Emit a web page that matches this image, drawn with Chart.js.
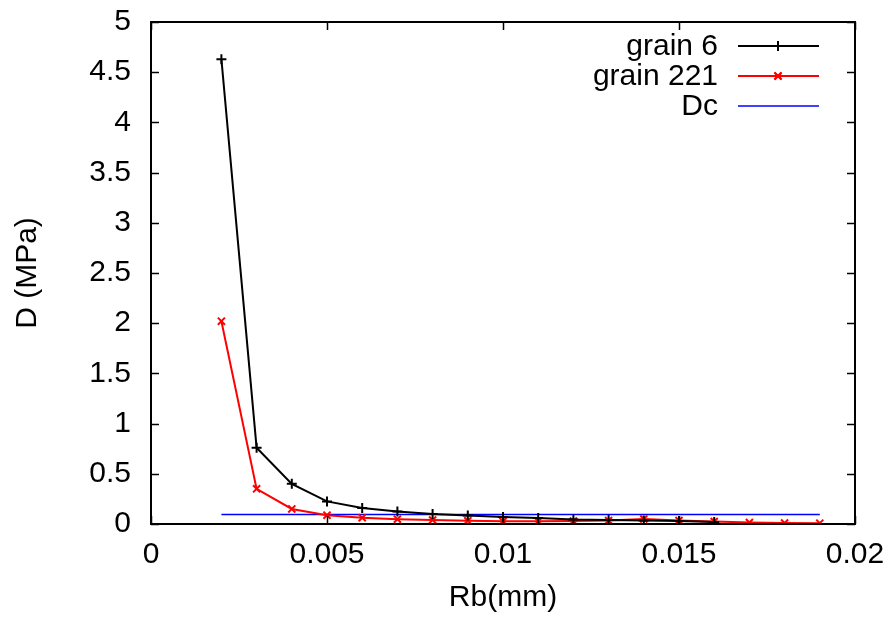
<!DOCTYPE html>
<html>
<head>
<meta charset="utf-8">
<script src="https://cdn.jsdelivr.net/npm/chart.js@4.4.1/dist/chart.umd.min.js"></script>
<style>
  html, body { margin: 0; padding: 0; background: #fff; }
  canvas { display: block; }
</style>
</head>
<body>
<canvas id="chart" width="892" height="620"></canvas>
<script>
const rb6 = [0.002, 0.003, 0.004, 0.005, 0.006, 0.007, 0.008, 0.009, 0.010, 0.011, 0.012, 0.013, 0.014, 0.015, 0.016];
const d6 = [4.63, 0.76, 0.40, 0.225, 0.16, 0.125, 0.10, 0.085, 0.07, 0.06, 0.045, 0.04, 0.035, 0.03, 0.02];

const rb221 = [0.002, 0.003, 0.004, 0.005, 0.006, 0.007, 0.008, 0.009, 0.010, 0.011, 0.012, 0.013, 0.014, 0.015, 0.016, 0.017, 0.018, 0.019];
const d221 = [2.02, 0.35, 0.15, 0.088, 0.062, 0.048, 0.04, 0.032, 0.027, 0.027, 0.03, 0.035, 0.05, 0.035, 0.025, 0.015, 0.01, 0.008];

const rbDc = [0.002, 0.019];
const dDc = [0.094, 0.094];

const xTicks = [0, 0.005, 0.01, 0.015, 0.02];
const yTicks = [0, 0.5, 1, 1.5, 2, 2.5, 3, 3.5, 4, 4.5, 5];

const FONT = 'Liberation Sans, Arial, Helvetica, sans-serif';
const FS = 30;

function pts(xs, ys) {
  return xs.map((x, i) => ({ x: x, y: ys[i] }));
}

// gnuplot-like frame with inward ticks on all four sides + legend in the top right
const framePlugin = {
  id: 'frame',
  afterDatasetsDraw(chart) {
    const ctx = chart.ctx;
    const a = chart.chartArea;
    const xs = chart.scales.x, ys = chart.scales.y;
    const len = 8;
    ctx.save();
    ctx.strokeStyle = '#000';
    ctx.lineWidth = 1.5;
    ctx.beginPath();
    xTicks.forEach(v => {
      const px = Math.round(xs.getPixelForValue(v)) + 0.5;
      ctx.moveTo(px, a.bottom); ctx.lineTo(px, a.bottom - len);
      ctx.moveTo(px, a.top); ctx.lineTo(px, a.top + len);
    });
    yTicks.forEach(v => {
      const py = Math.round(ys.getPixelForValue(v)) + 0.5;
      ctx.moveTo(a.left, py); ctx.lineTo(a.left + len, py);
      ctx.moveTo(a.right, py); ctx.lineTo(a.right - len, py);
    });
    ctx.stroke();
    ctx.lineWidth = 2;
    ctx.strokeRect(a.left, a.top, a.right - a.left, a.bottom - a.top);

    // legend
    ctx.font = FS + 'px ' + FONT;
    ctx.textAlign = 'right';
    ctx.textBaseline = 'middle';
    chart.data.datasets.forEach((ds, i) => {
      const y = 46 + i * 30;
      ctx.fillStyle = '#000';
      ctx.fillText(ds.label, 718, y + 1);
      ctx.strokeStyle = ds.borderColor;
      ctx.lineWidth = ds.borderWidth;
      ctx.beginPath();
      ctx.moveTo(738, y); ctx.lineTo(819, y);
      ctx.stroke();
      if (ds.pointRadius > 0) {
        Chart.helpers.drawPoint(ctx, {
          pointStyle: ds.pointStyle, radius: ds.pointRadius, rotation: 0, borderWidth: ds.pointBorderWidth
        }, 778, y);
        ctx.strokeStyle = ds.pointBorderColor;
        ctx.lineWidth = ds.pointBorderWidth;
        ctx.stroke();
      }
    });
    ctx.restore();
  }
};

new Chart(document.getElementById('chart'), {
  type: 'scatter',
  data: {
    datasets: [
      {
        label: 'grain 6',
        data: pts(rb6, d6),
        showLine: true,
        borderColor: '#000',
        borderWidth: 2,
        pointStyle: 'cross',
        pointRadius: 5,
        pointBorderColor: '#000',
        pointBackgroundColor: '#000',
        pointBorderWidth: 2
      },
      {
        label: 'grain 221',
        data: pts(rb221, d221),
        showLine: true,
        borderColor: '#ff0000',
        borderWidth: 2,
        pointStyle: 'crossRot',
        pointRadius: 5,
        pointBorderColor: '#ff0000',
        pointBackgroundColor: '#ff0000',
        pointBorderWidth: 2
      },
      {
        label: 'Dc',
        data: pts(rbDc, dDc),
        showLine: true,
        borderColor: '#0000ff',
        borderWidth: 1.5,
        pointRadius: 0,
        pointBorderWidth: 0
      }
    ]
  },
  options: {
    responsive: false,
    animation: false,
    events: [],
    layout: { padding: { left: 0, top: 22, right: 37, bottom: 0 } },
    plugins: {
      legend: { display: false },
      tooltip: { enabled: false }
    },
    scales: {
      x: {
        type: 'linear',
        min: 0,
        max: 0.02,
        afterFit: (s) => { s.height = 96; s.paddingLeft = 0; s.paddingRight = 0; },
        afterBuildTicks: (s) => { s.ticks = xTicks.map(v => ({ value: v })); },
        grid: { display: false, drawTicks: false },
        border: { display: false },
        ticks: {
          color: '#000',
          font: { family: FONT, size: FS },
          padding: 13,
          maxRotation: 0,
          callback: (v) => String(v)
        },
        title: {
          display: true,
          text: 'Rb(mm)',
          color: '#000',
          font: { family: FONT, size: FS },
          padding: { top: 0, bottom: 4 }
        }
      },
      y: {
        type: 'linear',
        min: 0,
        max: 5,
        afterFit: (s) => { s.width = 151; s.paddingTop = 0; s.paddingBottom = 0; },
        afterBuildTicks: (s) => { s.ticks = yTicks.map(v => ({ value: v })); },
        grid: { display: false, drawTicks: false },
        border: { display: false },
        ticks: {
          color: '#000',
          font: { family: FONT, size: FS },
          padding: 20,
          callback: (v) => String(v)
        },
        title: {
          display: true,
          text: 'D (MPa)',
          color: '#000',
          font: { family: FONT, size: FS },
          padding: { top: 10, bottom: 0 }
        }
      }
    }
  },
  plugins: [framePlugin]
});
</script>
</body>
</html>
